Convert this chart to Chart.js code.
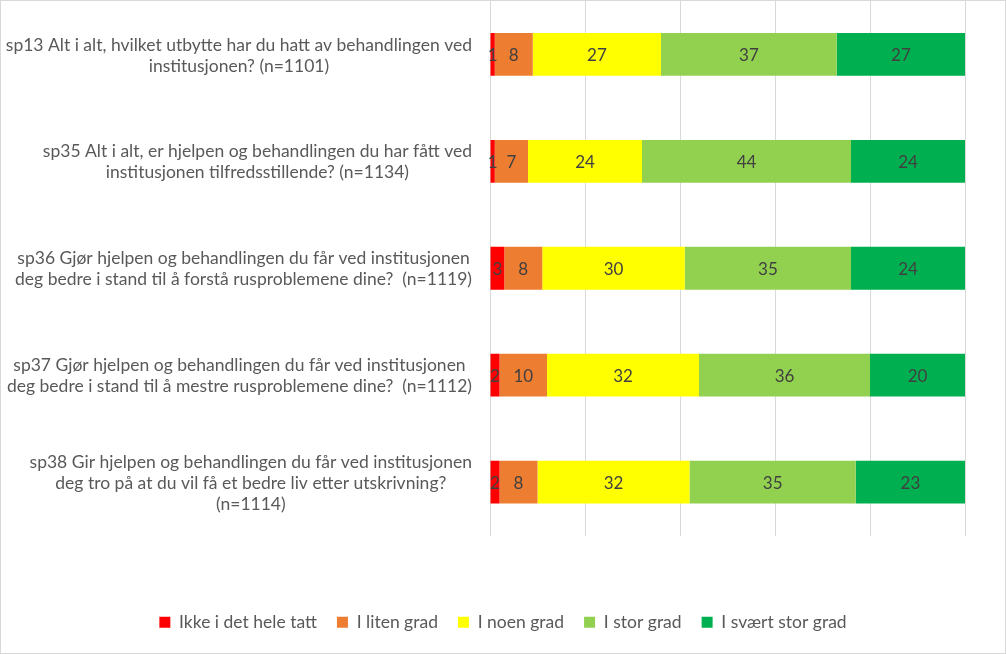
<!DOCTYPE html>
<html>
<head>
<meta charset="utf-8">
<script src="https://cdn.jsdelivr.net/npm/chart.js@4.4.1/dist/chart.umd.min.js"></script>
<style>
  html, body { margin: 0; padding: 0; background: #fff; }
  #wrap { width: 1004px; height: 652px; border: 1px solid #d9d9d9; }
</style>
</head>
<body>
<div id="wrap"><canvas id="chart" width="1004" height="652"></canvas></div>
<script>
// questions (each one already split into the lines shown in the chart)
const questions = [
  ['sp13 Alt i alt, hvilket utbytte har du hatt av behandlingen ved', 'institusjonen? (n=1101)'],
  ['sp35 Alt i alt, er hjelpen og behandlingen du har fått ved', 'institusjonen tilfredsstillende? (n=1134)'],
  ['sp36 Gjør hjelpen og behandlingen du får ved institusjonen', 'deg bedre i stand til å forstå rusproblemene dine?  (n=1119)'],
  ['sp37 Gjør hjelpen og behandlingen du får ved institusjonen', 'deg bedre i stand til å mestre rusproblemene dine?  (n=1112)'],
  ['sp38 Gir hjelpen og behandlingen du får ved institusjonen', 'deg tro på at du vil få et bedre liv etter utskrivning?', '(n=1114)']
];

const seriesNames = ['Ikke i det hele tatt', 'I liten grad', 'I noen grad', 'I stor grad', 'I svært stor grad'];

// percent per answer
const ikkeIDetHeleTatt = [1, 1, 3, 2, 2];
const iLitenGrad = [8, 7, 8, 10, 8];
const iNoenGrad = [27, 24, 30, 32, 32];
const iStorGrad = [37, 44, 35, 36, 35];
const iSvaertStorGrad = [27, 24, 24, 20, 23];

const seriesColors = ['#FF0000', '#ED7D31', '#FFFF00', '#92D050', '#00B050'];

const FONT = 'Lato, "Open Sans", sans-serif';
const FONT_SIZE = 17.5;

// values written in the middle of every segment
const barLabels = {
  id: 'barLabels',
  afterDatasetsDraw(chart) {
    const ctx = chart.ctx;
    ctx.save();
    ctx.font = '17px ' + FONT;
    ctx.fillStyle = '#404040';
    ctx.textAlign = 'center';
    ctx.textBaseline = 'middle';
    chart.data.datasets.forEach((ds, i) => {
      chart.getDatasetMeta(i).data.forEach((bar, j) => {
        ctx.fillText(String(ds.data[j]), (bar.x + bar.base) / 2, bar.y + 1);
      });
    });
    ctx.restore();
  }
};

// Excel style category labels: block right aligned, lines centred in the block
const wrappedLabels = {
  id: 'wrappedLabels',
  afterDraw(chart) {
    const { ctx, chartArea, scales: { y } } = chart;
    ctx.save();
    ctx.font = FONT_SIZE + 'px ' + FONT;
    ctx.fillStyle = '#595959';
    ctx.textAlign = 'center';
    ctx.textBaseline = 'middle';
    const right = chartArea.left - 18;
    const lh = 21;
    chart.data.labels.forEach((lines, i) => {
      const w = Math.max(...lines.map(l => ctx.measureText(l).width));
      const cx = right - w / 2;
      const cy = y.getPixelForValue(i) + 1 - (lines.length - 1) * lh / 2;
      lines.forEach((l, k) => ctx.fillText(l, cx, cy + k * lh));
    });
    ctx.restore();
  }
};

const allSeries = [ikkeIDetHeleTatt, iLitenGrad, iNoenGrad, iStorGrad, iSvaertStorGrad];

new Chart(document.getElementById('chart'), {
  type: 'bar',
  data: {
    labels: questions,
    datasets: allSeries.map((data, i) => ({
      label: seriesNames[i],
      data: data,
      backgroundColor: seriesColors[i],
      borderWidth: 0,
      barPercentage: 0.4,
      categoryPercentage: 1
    }))
  },
  options: {
    indexAxis: 'y',
    responsive: false,
    animation: false,
    layout: { padding: { left: 0, right: 0, top: 0, bottom: 12 } },
    plugins: {
      legend: {
        position: 'bottom',
        labels: {
          boxWidth: 11,
          boxHeight: 11,
          padding: 20,
          color: '#595959',
          font: { family: FONT, size: FONT_SIZE }
        }
      },
      tooltip: { enabled: false }
    },
    scales: {
      x: {
        stacked: true,
        min: 0,
        max: 100,
        ticks: { display: false, stepSize: 20 },
        grid: { color: '#d9d9d9', drawTicks: false },
        border: { display: false },
        afterFit(scale) { scale.height = 58; }
      },
      y: {
        stacked: true,
        ticks: { display: false },
        grid: { display: false },
        border: { display: false },
        afterFit(scale) { scale.width = 489; }
      },
      // empty axis that only keeps the white margin right of the bars
      yRight: {
        type: 'category',
        position: 'right',
        ticks: { display: false },
        grid: { display: false },
        border: { display: false },
        afterFit(scale) { scale.width = 40; }
      }
    }
  },
  plugins: [barLabels, wrappedLabels]
});
</script>
</body>
</html>
